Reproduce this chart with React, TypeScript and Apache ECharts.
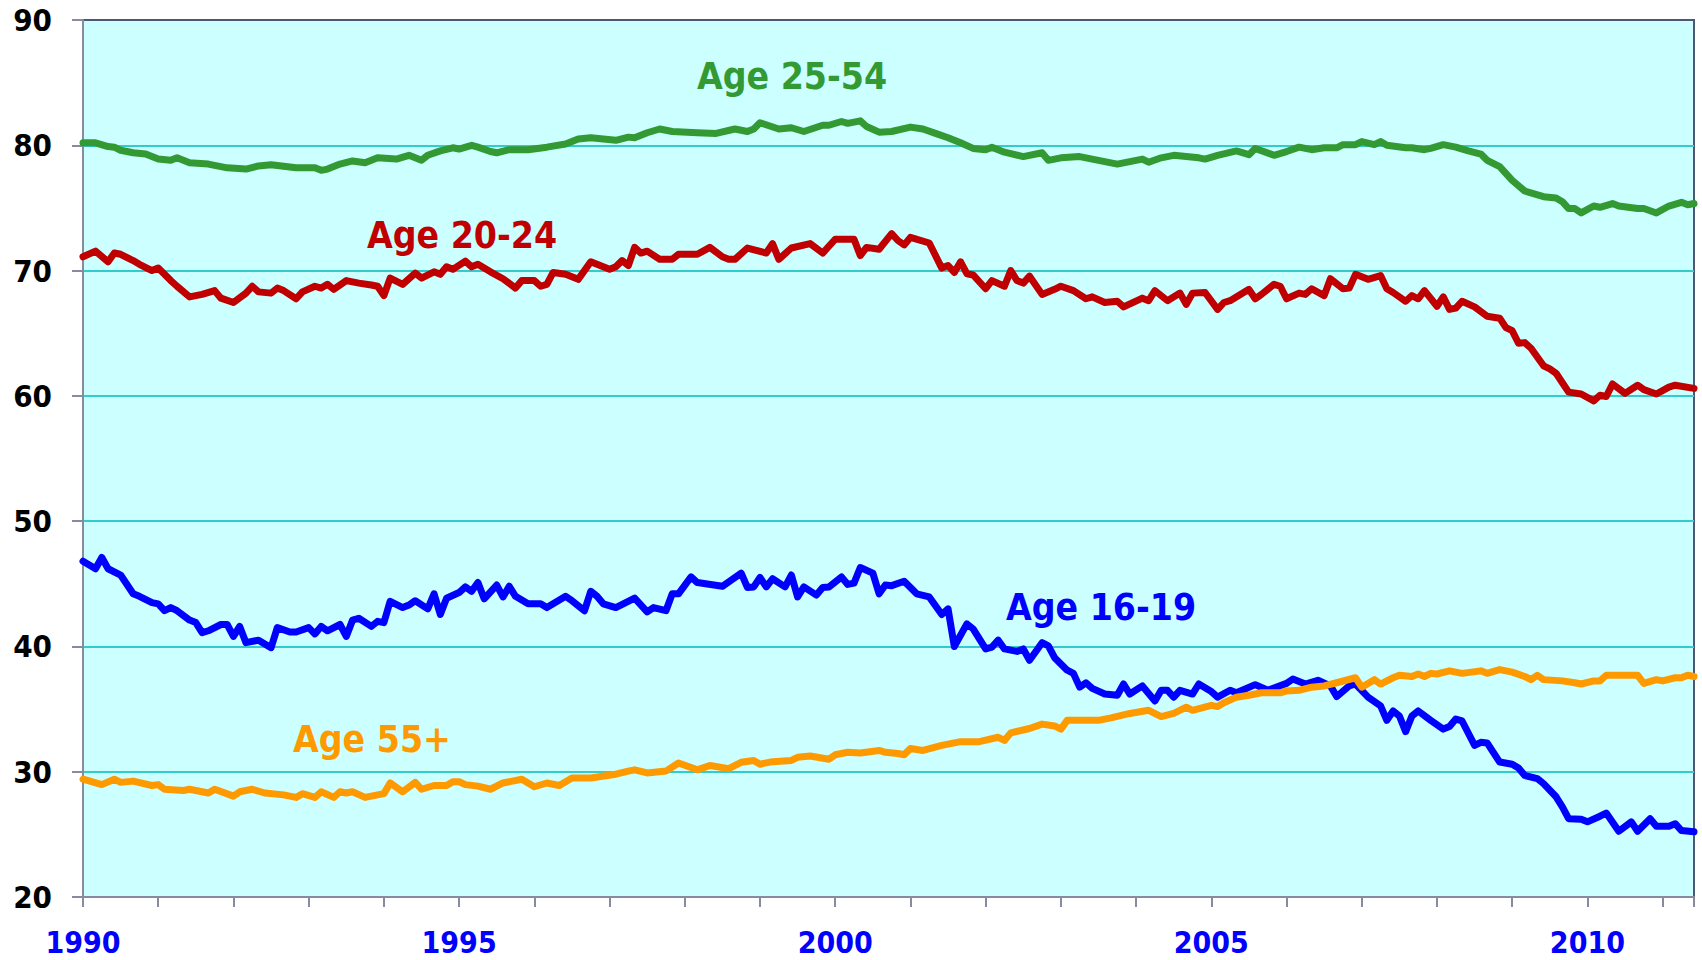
import React, { useEffect, useRef } from "react";
import * as echarts from "echarts";

// x = months since Jan 1990 (0 = Jan 1990, 257 = Jun 2011)
const START_YEAR = 1990;
const LAST_MONTH = 257;
const X_LABEL_YEARS = [1990, 1995, 2000, 2005, 2010];
const Y_MIN = 20;
const Y_MAX = 90;
const Y_STEP = 10;

const seriesNames = ["Age 16-19", "Age 20-24", "Age 25-54", "Age 55+"];

const age1619: [number, number][] = [
  [0, 46.8], [2, 46.2], [3, 47.1], [4, 46.2], [6, 45.7], [8, 44.2], [9, 44.0], [11, 43.5], [12, 43.4],
  [13, 42.85], [14, 43.1], [15, 42.85], [17, 42.1], [18, 41.9], [19, 41.1], [20, 41.25], [22, 41.75],
  [23, 41.75], [24, 40.8], [25, 41.6], [26, 40.3], [28, 40.5], [30, 39.9], [31, 41.5], [33, 41.15],
  [34, 41.15], [36, 41.5], [37, 41.0], [38, 41.6], [39, 41.25], [41, 41.75], [42, 40.8], [43, 42.1],
  [44, 42.25], [46, 41.6], [47, 42.0], [48, 41.9], [49, 43.6], [51, 43.1], [52, 43.3], [53, 43.65],
  [55, 43.0], [56, 44.2], [57, 42.55], [58, 43.85], [60, 44.3], [61, 44.75], [62, 44.4], [63, 45.1],
  [64, 43.8], [66, 44.9], [67, 43.95], [68, 44.8], [69, 44.0], [71, 43.4], [73, 43.4], [74, 43.1],
  [77, 44.0], [78, 43.65], [80, 42.85], [81, 44.4], [82, 44.0], [83, 43.4], [85, 43.1], [88, 43.85],
  [90, 42.75], [91, 43.1], [93, 42.85], [94, 44.2], [95, 44.2], [97, 45.55], [98, 45.1], [102, 44.8],
  [105, 45.85], [106, 44.7], [107, 44.75], [108, 45.5], [109, 44.75], [110, 45.4], [112, 44.75],
  [113, 45.7], [114, 43.95], [115, 44.75], [117, 44.1], [118, 44.7], [119, 44.75], [121, 45.55],
  [122, 44.95], [123, 45.05], [124, 46.3], [126, 45.85], [127, 44.2], [128, 44.9], [129, 44.85],
  [131, 45.2], [133, 44.2], [135, 43.95], [137, 42.55], [138, 43.0], [139, 40.0], [141, 41.8],
  [142, 41.4], [144, 39.8], [145, 39.95], [146, 40.5], [147, 39.8], [149, 39.6], [150, 39.8],
  [151, 38.9], [153, 40.3], [154, 40.05], [155, 39.1], [157, 38.1], [158, 37.85], [159, 36.75],
  [160, 37.1], [161, 36.65], [163, 36.2], [165, 36.1], [166, 37.0], [167, 36.2], [169, 36.85],
  [171, 35.65], [172, 36.5], [173, 36.5], [174, 35.95], [175, 36.5], [177, 36.2], [178, 37.0],
  [180, 36.4], [181, 35.95], [183, 36.5], [184, 36.3], [187, 36.95], [189, 36.5], [192, 37.05],
  [193, 37.4], [195, 37.0], [197, 37.3], [199, 36.85], [200, 36.0], [202, 36.85], [203, 37.0],
  [205, 35.95], [207, 35.25], [208, 34.1], [209, 34.85], [210, 34.45], [211, 33.2], [212, 34.45],
  [213, 34.85], [215, 34.1], [217, 33.4], [218, 33.6], [219, 34.2], [220, 34.05], [222, 32.1],
  [223, 32.35], [224, 32.3], [226, 30.77], [228, 30.6], [229, 30.3], [230, 29.7], [232, 29.45],
  [233, 29.05], [235, 28.0], [236, 27.2], [237, 26.25], [239, 26.2], [240, 26.0], [242, 26.45],
  [243, 26.7], [245, 25.25], [247, 26.0], [248, 25.25], [250, 26.25], [251, 25.65], [253, 25.65],
  [254, 25.85], [255, 25.3], [257, 25.2],
];

const age2024: [number, number][] = [
  [0, 71.1], [2, 71.55], [4, 70.7], [5, 71.4], [6, 71.3], [8, 70.8], [9, 70.5], [11, 70.0], [12, 70.2],
  [14, 69.2], [15, 68.75], [17, 67.9], [19, 68.1], [21, 68.4], [22, 67.8], [24, 67.45], [26, 68.2],
  [27, 68.75], [28, 68.3], [30, 68.2], [31, 68.6], [32, 68.4], [34, 67.75], [35, 68.3], [37, 68.75],
  [38, 68.6], [39, 68.9], [40, 68.5], [42, 69.2], [44, 69.0], [46, 68.85], [47, 68.75], [48, 68.0],
  [49, 69.4], [51, 68.9], [53, 69.8], [54, 69.4], [56, 69.9], [57, 69.7], [58, 70.3], [59, 70.1],
  [61, 70.75], [62, 70.3], [63, 70.5], [65, 69.9], [67, 69.35], [69, 68.6], [70, 69.2], [72, 69.2],
  [73, 68.75], [74, 68.9], [75, 69.85], [77, 69.7], [79, 69.3], [81, 70.7], [84, 70.1], [85, 70.3],
  [86, 70.8], [87, 70.4], [88, 71.85], [89, 71.4], [90, 71.55], [92, 70.9], [94, 70.9], [95, 71.3],
  [98, 71.3], [100, 71.85], [102, 71.1], [103, 70.9], [104, 70.9], [106, 71.8], [109, 71.4],
  [110, 72.15], [111, 70.9], [113, 71.8], [116, 72.15], [118, 71.4], [120, 72.5], [123, 72.5],
  [124, 71.2], [125, 71.85], [127, 71.7], [129, 72.95], [130, 72.4], [131, 72.05], [132, 72.65],
  [135, 72.2], [137, 70.2], [138, 70.4], [139, 69.85], [140, 70.7], [141, 69.75], [142, 69.65],
  [144, 68.55], [145, 69.2], [147, 68.75], [148, 70.0], [149, 69.2], [150, 69.0], [151, 69.55],
  [153, 68.1], [155, 68.5], [156, 68.75], [158, 68.4], [160, 67.75], [161, 67.9], [163, 67.45],
  [165, 67.55], [166, 67.1], [169, 67.8], [170, 67.6], [171, 68.4], [173, 67.6], [175, 68.2],
  [176, 67.3], [177, 68.2], [179, 68.25], [181, 66.9], [182, 67.45], [183, 67.6], [186, 68.5],
  [187, 67.75], [188, 68.1], [190, 68.9], [191, 68.75], [192, 67.75], [194, 68.2], [195, 68.1],
  [196, 68.55], [198, 68.0], [199, 69.35], [201, 68.55], [202, 68.6], [203, 69.7], [205, 69.3],
  [207, 69.6], [208, 68.55], [209, 68.25], [211, 67.55], [212, 68.0], [213, 67.75], [214, 68.4],
  [216, 67.15], [217, 67.9], [218, 66.9], [219, 67.0], [220, 67.55], [222, 67.1], [224, 66.35],
  [226, 66.2], [227, 65.45], [228, 65.2], [229, 64.2], [230, 64.25], [231, 63.8], [233, 62.4],
  [234, 62.15], [235, 61.8], [236, 61.05], [237, 60.3], [239, 60.15], [241, 59.6], [242, 60.05],
  [243, 59.95], [244, 60.95], [246, 60.2], [248, 60.85], [249, 60.5], [251, 60.15], [253, 60.7],
  [254, 60.85], [257, 60.6],
];

const age2554: [number, number][] = [
  [0, 80.2], [2, 80.2], [4, 79.9], [5, 79.85], [6, 79.6], [8, 79.4], [10, 79.3], [12, 78.9], [14, 78.8],
  [15, 79.0], [17, 78.6], [20, 78.5], [23, 78.2], [26, 78.1], [28, 78.35], [30, 78.45], [34, 78.2],
  [37, 78.2], [38, 78.0], [39, 78.1], [41, 78.5], [43, 78.75], [45, 78.6], [47, 79.0], [50, 78.9],
  [52, 79.2], [54, 78.8], [55, 79.2], [57, 79.55], [59, 79.8], [60, 79.7], [62, 80.0], [63, 79.85],
  [65, 79.5], [66, 79.4], [68, 79.65], [71, 79.65], [74, 79.85], [77, 80.1], [79, 80.5], [81, 80.6],
  [85, 80.4], [87, 80.65], [88, 80.6], [90, 81.0], [92, 81.3], [94, 81.1], [98, 81.0], [101, 80.95],
  [104, 81.3], [106, 81.1], [107, 81.3], [108, 81.8], [111, 81.3], [113, 81.4], [115, 81.1],
  [118, 81.6], [119, 81.6], [121, 81.9], [122, 81.75], [124, 81.95], [125, 81.5], [127, 81.05],
  [129, 81.1], [132, 81.45], [134, 81.3], [136, 80.95], [138, 80.6], [140, 80.2], [142, 79.75],
  [144, 79.65], [145, 79.85], [147, 79.45], [150, 79.1], [153, 79.4], [154, 78.8], [156, 79.0],
  [159, 79.1], [162, 78.8], [165, 78.5], [169, 78.9], [170, 78.65], [172, 79.0], [174, 79.2],
  [178, 79.0], [179, 78.9], [181, 79.2], [184, 79.55], [186, 79.25], [187, 79.75], [190, 79.2],
  [192, 79.5], [194, 79.85], [196, 79.65], [198, 79.8], [200, 79.8], [201, 80.05], [203, 80.05],
  [204, 80.3], [206, 80.05], [207, 80.3], [208, 80.0], [211, 79.8], [212, 79.8], [214, 79.65],
  [215, 79.75], [217, 80.05], [219, 79.85], [221, 79.55], [223, 79.3], [224, 78.8], [226, 78.3],
  [228, 77.2], [230, 76.35], [233, 75.9], [235, 75.8], [236, 75.5], [237, 74.95], [238, 74.95],
  [239, 74.6], [241, 75.15], [242, 75.05], [244, 75.35], [245, 75.15], [248, 74.95], [249, 74.95],
  [251, 74.6], [253, 75.15], [255, 75.45], [256, 75.25], [257, 75.35],
];

const age55plus: [number, number][] = [
  [0, 29.4], [3, 28.97], [5, 29.4], [6, 29.15], [8, 29.25], [11, 28.9], [12, 28.97], [13, 28.6],
  [16, 28.5], [17, 28.6], [20, 28.3], [21, 28.6], [24, 28.05], [25, 28.4], [27, 28.6], [29, 28.3],
  [32, 28.15], [34, 27.95], [35, 28.25], [37, 27.95], [38, 28.4], [40, 27.95], [41, 28.4], [42, 28.3],
  [43, 28.4], [45, 27.95], [48, 28.25], [49, 29.1], [51, 28.4], [53, 29.15], [54, 28.6], [56, 28.9],
  [58, 28.9], [59, 29.2], [60, 29.2], [61, 28.97], [63, 28.85], [65, 28.6], [67, 29.1], [70, 29.4],
  [72, 28.8], [74, 29.1], [76, 28.9], [78, 29.5], [81, 29.5], [85, 29.8], [87, 30.05], [88, 30.15],
  [90, 29.9], [93, 30.05], [95, 30.7], [98, 30.15], [100, 30.5], [103, 30.25], [105, 30.75],
  [107, 30.9], [108, 30.6], [110, 30.8], [113, 30.9], [114, 31.15], [116, 31.25], [119, 31.0],
  [120, 31.35], [122, 31.55], [124, 31.5], [127, 31.7], [128, 31.55], [130, 31.45], [131, 31.35],
  [132, 31.85], [134, 31.7], [137, 32.1], [140, 32.4], [143, 32.4], [146, 32.75], [147, 32.5],
  [148, 33.1], [151, 33.45], [153, 33.8], [155, 33.65], [156, 33.4], [157, 34.1], [159, 34.1],
  [162, 34.1], [164, 34.3], [167, 34.65], [170, 34.9], [172, 34.4], [174, 34.65], [176, 35.15],
  [177, 34.9], [180, 35.3], [181, 35.2], [182, 35.5], [184, 35.95], [186, 36.1], [188, 36.3],
  [191, 36.3], [192, 36.45], [194, 36.5], [196, 36.75], [198, 36.85], [200, 37.1], [203, 37.5],
  [204, 36.75], [206, 37.35], [207, 37.0], [209, 37.5], [210, 37.7], [212, 37.6], [213, 37.8],
  [214, 37.6], [215, 37.85], [216, 37.8], [218, 38.05], [220, 37.85], [223, 38.05], [224, 37.85],
  [226, 38.15], [228, 37.95], [230, 37.6], [231, 37.35], [232, 37.7], [233, 37.35], [236, 37.25],
  [238, 37.1], [239, 37.0], [241, 37.25], [242, 37.25], [243, 37.7], [246, 37.7], [248, 37.7],
  [249, 37.05], [251, 37.35], [252, 37.25], [254, 37.5], [255, 37.5], [256, 37.7], [257, 37.6],
];

const seriesData = [age1619, age2024, age2554, age55plus];
const seriesColors = ["#0000FF", "#C00000", "#339933", "#FF9900"];

const FONT = "'DejaVu Sans Condensed', 'DejaVu Sans', sans-serif";

export default function App() {
  const ref = useRef<HTMLDivElement>(null);

  useEffect(() => {
    if (!ref.current) return;
    const chart = echarts.init(ref.current, undefined, { renderer: "svg" });

    const labelPos = [
      { x: 1101, y: 607 },
      { x: 462, y: 235 },
      { x: 792, y: 76 },
      { x: 372, y: 739 },
    ];

    chart.setOption({
      animation: false,
      backgroundColor: "#FFFFFF",
      grid: {
        left: 83,
        top: 20,
        width: 1611,
        height: 877,
        show: true,
        backgroundColor: "#CCFFFF",
        borderColor: "#4B5775",
        borderWidth: 2,
      },
      xAxis: {
        type: "value",
        min: 0,
        max: LAST_MONTH,
        interval: 12,
        axisLine: { show: true, onZero: false, lineStyle: { color: "#8A8A9E", width: 2 } },
        axisTick: { show: true, length: 10, lineStyle: { color: "#8A8A9E", width: 2 } },
        splitLine: { show: false },
        axisLabel: {
          margin: 30,
          color: "#0000FF",
          fontWeight: "bold",
          fontSize: 30,
          fontFamily: FONT,
          formatter: (v: number) => {
            const yr = START_YEAR + v / 12;
            return X_LABEL_YEARS.includes(yr) ? String(yr) : "";
          },
        },
      },
      yAxis: {
        type: "value",
        min: Y_MIN,
        max: Y_MAX,
        interval: Y_STEP,
        axisLine: { show: true, onZero: false, lineStyle: { color: "#8A8A9E", width: 2 } },
        axisTick: { show: true, length: 11, lineStyle: { color: "#8A8A9E", width: 2 } },
        splitLine: {
          show: true,
          showMinLine: false,
          showMaxLine: false,
          lineStyle: { color: "#33CCCC", width: 2 },
        },
        axisLabel: {
          margin: 31,
          color: "#000000",
          fontWeight: "bold",
          fontSize: 31,
          fontFamily: FONT,
        },
      },
      series: seriesNames.map((name, i) => ({
        name,
        type: "line",
        data: seriesData[i],
        showSymbol: false,
        symbol: "none",
        lineStyle: { color: seriesColors[i], width: 7, cap: "round", join: "round" },
        itemStyle: { color: seriesColors[i] },
      })),
      graphic: seriesNames.map((name, i) => ({
        type: "text",
        x: labelPos[i].x,
        y: labelPos[i].y,
        style: {
          text: name,
          fill: seriesColors[i],
          font: `bold 37px ${FONT}`,
          align: "center",
          verticalAlign: "middle",
        },
      })),
    });

    return () => chart.dispose();
  }, []);

  return (
    <div
      ref={ref}
      style={{ position: "absolute", left: 0, top: 0, width: 1702, height: 960 }}
    />
  );
}
